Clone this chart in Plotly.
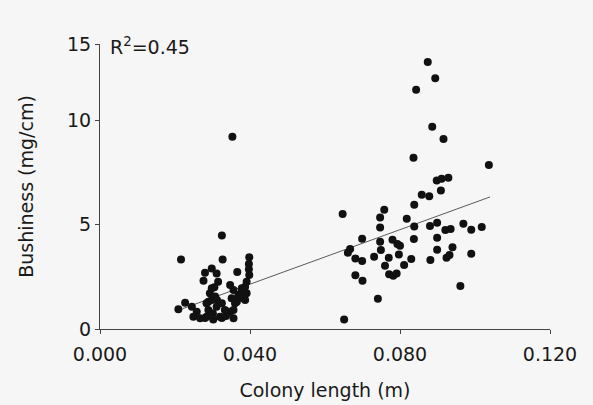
import plotly.graph_objects as go

# Colony length (m) and bushiness (mg/cm)
colony_length = [
    0.0353, 0.0325, 0.0216, 0.0327, 0.0398, 0.0397, 0.0397, 0.0366, 0.0298, 0.0280,
    0.0276, 0.0311, 0.0315, 0.0398, 0.0391, 0.0347, 0.0356, 0.0378, 0.0391, 0.0387,
    0.0293, 0.0298, 0.0351, 0.0360, 0.0227, 0.0209, 0.0245, 0.0258, 0.0249, 0.0267,
    0.0284, 0.0302, 0.0320, 0.0342, 0.0356, 0.0284, 0.0289, 0.0311, 0.0325, 0.0333,
    0.0307, 0.0305, 0.0298, 0.0289, 0.0312, 0.0325, 0.0387, 0.0378, 0.0369, 0.0382,
    0.0365, 0.0347, 0.0356, 0.0280, 0.0336, 0.0301,
    0.0874, 0.0894, 0.0843, 0.0886, 0.0916, 0.0836, 0.1037, 0.0898, 0.0911, 0.0929,
    0.0909, 0.0858, 0.0878, 0.0838, 0.0647, 0.0758, 0.0747, 0.0818, 0.0747, 0.0838,
    0.0880, 0.0899, 0.0969, 0.0990, 0.1018, 0.0921, 0.0935, 0.0699, 0.0837, 0.0899,
    0.0747, 0.0749, 0.0780, 0.0793, 0.0800, 0.0667, 0.0661, 0.0797, 0.0940, 0.0899,
    0.0681, 0.0699, 0.0731, 0.0770, 0.0760, 0.0830, 0.0811, 0.0924, 0.0932, 0.0881,
    0.0990, 0.0771, 0.0791, 0.0782, 0.0681, 0.0700, 0.0961, 0.0741, 0.0651,
]
bushiness = [
    9.20, 4.48, 3.33, 3.33, 3.43, 3.11, 2.86, 2.73, 2.90, 2.69,
    2.31, 2.66, 2.26, 2.58, 2.26, 2.10, 1.87, 1.95, 1.71, 1.39,
    1.71, 1.39, 1.47, 1.23, 1.26, 0.94, 1.07, 0.83, 0.59, 0.51,
    0.59, 0.46, 0.59, 0.83, 0.91, 1.23, 0.91, 1.07, 1.23, 0.91,
    1.55, 2.00, 1.95, 1.31, 1.39, 0.53, 2.02, 1.78, 1.63, 1.47,
    1.31, 0.83, 0.51, 0.53, 0.62, 0.75,
    12.78, 12.00, 11.45, 9.68, 9.09, 8.20, 7.85, 7.11, 7.19, 7.24,
    6.63, 6.43, 6.35, 5.95, 5.50, 5.71, 5.34, 5.28, 4.86, 4.90,
    4.93, 5.09, 5.04, 4.75, 4.88, 4.74, 4.78, 4.32, 4.31, 4.37,
    4.18, 3.78, 4.27, 4.07, 3.99, 3.83, 3.65, 3.57, 3.91, 3.79,
    3.38, 3.25, 3.46, 3.41, 3.03, 3.35, 3.06, 3.41, 3.54, 3.30,
    3.60, 2.62, 2.66, 2.55, 2.57, 2.31, 2.06, 1.45, 0.46,
]

# Regression line end points
fit_x = [0.022, 0.104]
fit_y = [0.97, 6.32]

x_ticks = [0.0, 0.04, 0.08, 0.12]
x_tick_labels = ["0.000", "0.040", "0.080", "0.120"]
y_ticks = [0, 5, 10, 13.64]
y_tick_labels = ["0", "5", "10", "15"]

FONT = "DejaVu Sans"
INK = "#1a1a1a"
BG = "#f6f6f6"

fig = go.Figure()
fig.add_trace(go.Scatter(
    x=fit_x, y=fit_y, mode="lines",
    line=dict(color="#5a5a5a", width=1), showlegend=False, hoverinfo="skip",
))
fig.add_trace(go.Scatter(
    x=colony_length, y=bushiness, mode="markers",
    marker=dict(color="#111111", size=8, line=dict(width=0)),
    showlegend=False,
))

fig.update_layout(
    width=593, height=405,
    margin=dict(l=100, r=43, t=44, b=76),
    paper_bgcolor=BG, plot_bgcolor=BG,
    font=dict(family=FONT, color=INK, size=19),
    xaxis=dict(
        range=[0, 0.12], tickvals=x_ticks, ticktext=x_tick_labels, automargin=False,
        showgrid=False, zeroline=False, showline=True, linecolor="#444", linewidth=1,
        ticks="outside", ticklen=4, tickcolor="#444", tickwidth=1, ticklabelstandoff=4,
        tickfont=dict(size=19, family=FONT, color=INK),
        title=dict(text="Colony length (m)", font=dict(size=19, family=FONT, color=INK), standoff=19),
    ),
    yaxis=dict(
        range=[0, 13.64], tickvals=y_ticks, ticktext=y_tick_labels, automargin=False,
        showgrid=False, zeroline=False, showline=True, linecolor="#444", linewidth=1,
        ticks="outside", ticklen=4, tickcolor="#444", tickwidth=1,
        tickfont=dict(size=19, family=FONT, color=INK),
        title=dict(text="Bushiness (mg/cm)", font=dict(size=19, family=FONT, color=INK), standoff=28),
    ),
    annotations=[dict(
        text="R<sup>2</sup>=0.45", x=0.017, y=1.0, xref="paper", yref="paper",
        xanchor="left", yanchor="top", showarrow=False, yshift=12,
        font=dict(size=19, family=FONT, color=INK),
    )],
)

fig.write_html("out.html", config={"displayModeBar": False})

# remove the browser's default page margin so the figure sits at the window origin
with open("out.html", "r", encoding="utf-8") as fh:
    html = fh.read()
html = html.replace("<body>", '<body style="margin:0;padding:0;">', 1)
with open("out.html", "w", encoding="utf-8") as fh:
    fh.write(html)
